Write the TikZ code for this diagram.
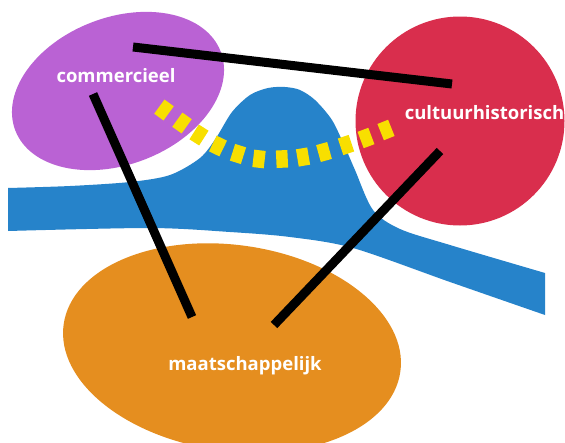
\documentclass[tikz,border=0pt]{standalone}
\usepackage{fontspec}
\setmainfont{Open Sans}
\definecolor{purp}{RGB}{186,98,212}
\definecolor{redc}{RGB}{217,46,77}
\definecolor{bluec}{RGB}{38,131,202}
\definecolor{orangec}{RGB}{229,142,31}
\definecolor{ydash}{RGB}{248,223,0}
\begin{document}
\begin{tikzpicture}[x=1pt,y=-1pt]
\tikzset{
  bar/.style={line width=9pt, draw=black},
  ydashstyle/.style={line width=17.5pt, draw=ydash},
  lab/.style={text=white, font=\bfseries\fontsize{18.5}{20}\selectfont, anchor=base, inner sep=0pt}
}
\useasboundingbox (0,0) rectangle (565,442);
% river
\fill[bluec] (8,231) -- plot[smooth, tension=0.5] coordinates {(8,188) (70,186) (130,182) (170,175) (200,158) (216,138) (232,112) (250,95) (268,88) (285,87) (300,90) (315,100) (332,120) (345,147) (355,170) (373,210) (400,229) (450,245) (545,273)} -- (545,315) -- plot[smooth, tension=0.5] coordinates {(545,315) (450,282) (353,248) (290,237) (230,232) (150,228) (8,231)} -- cycle;
% shapes
\fill[purp, rotate around={21:(118,91)}] (118,91) ellipse [x radius=110, y radius=73.5];
\fill[redc] (460,121) circle [radius=104.5];
\fill[orangec, rotate around={-8:(232,348)}] (232,348) ellipse [x radius=170, y radius=103];
% dashes
\foreach \px/\py/\a in {164/110/36, 182/123/35.5, 199/135/32.6, 218/146/26, 238/154/17.6, 259/159/6.5, 282/159/-2.6, 303/157/-9.5, 324/152/-15.6, 346/145/-18.4, 366/138/-20.6, 386/130/-21.8}
  \draw[ydashstyle] (\px,\py) ++(\a+180:5.75) -- ++(\a:11.5);
% bars
\coordinate (b1a) at (133,47);
\coordinate (b1b) at (452,84);
\coordinate (b2a) at (93,94);
\coordinate (b2b) at (192,317);
\coordinate (b3a) at (440,151);
\coordinate (b3b) at (274,325);
\draw[bar] (b1a) -- (b1b);
\draw[bar] (b2a) -- (b2b);
\draw[bar] (b3a) -- (b3b);
% labels
\node[lab] (com) at (116,82) {commercieel};
\node[lab] (cul) at (484.5,119) {cultuurhistorisch};
\node[lab] (maat) at (245,370) {maatschappelijk};
\end{tikzpicture}
\end{document}
